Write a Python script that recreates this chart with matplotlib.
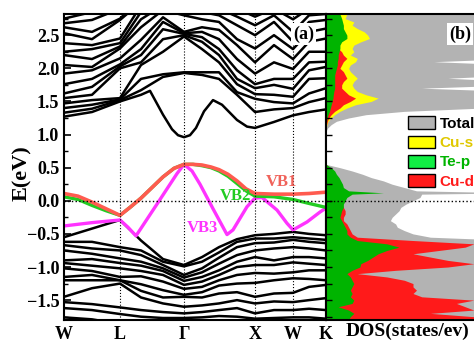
import matplotlib
matplotlib.use("Agg")
import matplotlib.pyplot as plt
from matplotlib.patches import Patch
from matplotlib.ticker import MultipleLocator

plt.rcParams["font.family"] = ["Liberation Serif", "DejaVu Serif"]
plt.rcParams["font.weight"] = "bold"

# ---- band structure -------------------------------------------------------
kpt_labels = ["W", "L", "Γ", "X", "W", "K"]
kpt_pos = [0.00, 0.56, 1.20, 1.91, 2.29, 2.62]

# sampling grid along the path W-L-Γ-X-W-K
k_grid = [0.00, 0.28, 0.56, 0.77, 0.99, 1.20, 1.38, 1.55, 1.73, 1.91, 2.10, 2.29, 2.45, 2.62]

# lowest conduction band, sampled finer around the Γ valley
cb01_k = [0.00, 0.28, 0.56, 0.77, 0.86, 0.99, 1.08, 1.14, 1.20, 1.26, 1.32, 1.40, 1.49,
          1.58, 1.73, 1.83, 1.91, 2.10, 2.29, 2.45, 2.62]
cb01 = [1.27, 1.34, 1.50, 1.60, 1.66, 1.30, 1.08, 0.99, 0.96, 0.99, 1.10, 1.35, 1.52,
        1.45, 1.22, 1.12, 1.10, 1.19, 1.29, 1.34, 1.38]
# other conduction bands (eV)
cb02 = [1.33, 1.39, 1.52, 1.67, 1.87, 1.93, 1.90, 1.84, 1.60, 1.34, 1.38, 1.40, 1.49, 1.55]
cb03 = [1.40, 1.45, 1.53, 1.84, 1.91, 1.94, 1.94, 1.94, 1.64, 1.54, 1.49, 1.47, 1.62, 1.70]
cb04 = [1.47, 1.52, 1.55, 2.05, 2.25, 2.48, 2.29, 2.09, 1.76, 1.61, 1.60, 1.57, 1.84, 1.85]
cb05 = [1.55, 1.60, 2.00, 2.09, 2.44, 2.50, 2.40, 2.20, 1.84, 1.70, 1.75, 1.69, 1.97, 2.02]
cb06 = [1.62, 1.72, 2.03, 2.20, 2.59, 2.52, 2.47, 2.29, 1.97, 1.76, 1.84, 1.84, 2.09, 2.10]
cb07 = [1.76, 1.84, 2.06, 2.29, 2.70, 2.53, 2.55, 2.44, 2.14, 1.92, 2.09, 1.99, 2.25, 2.25]
cb08 = [1.92, 1.97, 2.15, 2.43, 2.77, 2.55, 2.62, 2.58, 2.35, 2.09, 2.35, 2.14, 2.40, 2.45]
cb09 = [2.05, 2.02, 2.30, 2.62, 2.88, 2.80, 2.74, 2.70, 2.44, 2.30, 2.50, 2.29, 2.55, 2.60]
cb10 = [2.20, 2.14, 2.33, 2.74, 2.95, 2.90, 2.85, 2.80, 2.65, 2.50, 2.70, 2.40, 2.70, 2.73]
cb11 = [2.25, 2.29, 2.38, 2.85, 3.00, 3.00, 2.95, 2.90, 2.78, 2.65, 2.80, 2.55, 2.80, 2.82]
cb12 = [2.38, 2.35, 2.45, 2.95, 3.05, 3.05, 3.00, 3.00, 2.90, 2.78, 2.90, 2.74, 2.90, 2.90]
cb13 = [2.53, 2.44, 2.73, 3.00, 3.10, 3.10, 3.10, 3.10, 3.00, 2.90, 3.00, 2.85, 3.00, 3.00]
cb14 = [2.62, 2.55, 2.75, 3.05, 3.15, 3.15, 3.15, 3.15, 3.10, 3.00, 3.10, 3.00, 3.10, 3.10]
cb15 = [2.68, 2.73, 2.90, 3.10, 3.20, 3.20, 3.20, 3.20, 3.20, 3.10, 3.20, 3.10, 3.20, 3.20]
cb16 = [2.75, 2.85, 3.00, 3.20, 3.30, 3.30, 3.30, 3.30, 3.30, 3.20, 3.30, 3.20, 3.30, 3.30]

# deeper valence bands (eV)
vb04 = [-0.55, -0.42, -0.29, -0.60, -0.88, -0.97, -0.85, -0.70, -0.58, -0.52, -0.50, -0.47, -0.50, -0.52]
vb05 = [-0.62, -0.62, -0.70, -0.75, -0.92, -0.99, -0.92, -0.78, -0.62, -0.57, -0.57, -0.55, -0.57, -0.59]
vb06 = [-0.67, -0.72, -0.75, -0.82, -0.97, -1.12, -1.02, -0.86, -0.70, -0.64, -0.63, -0.59, -0.62, -0.64]
vb07 = [-0.75, -0.80, -0.87, -0.92, -1.02, -1.16, -1.08, -0.95, -0.82, -0.75, -0.72, -0.70, -0.72, -0.75]
vb08 = [-0.90, -0.88, -0.94, -0.98, -1.06, -1.21, -1.15, -1.05, -0.92, -0.85, -0.90, -0.85, -0.85, -0.87]
vb09 = [-0.94, -0.98, -1.02, -1.06, -1.12, -1.27, -1.22, -1.12, -1.00, -0.97, -0.97, -0.93, -0.95, -0.97]
vb10 = [-1.02, -1.06, -1.15, -1.14, -1.22, -1.33, -1.30, -1.20, -1.12, -1.09, -1.10, -1.08, -1.05, -1.05]
vb11 = [-1.15, -1.12, -1.20, -1.26, -1.35, -1.42, -1.38, -1.28, -1.25, -1.24, -1.20, -1.17, -1.18, -1.20]
vb12 = [-1.20, -1.20, -1.20, -1.36, -1.46, -1.45, -1.46, -1.40, -1.38, -1.45, -1.40, -1.39, -1.30, -1.27]
vb13 = [-1.45, -1.32, -1.25, -1.46, -1.55, -1.60, -1.58, -1.55, -1.50, -1.55, -1.52, -1.53, -1.50, -1.47]
vb14 = [-1.53, -1.56, -1.61, -1.65, -1.68, -1.70, -1.68, -1.65, -1.62, -1.70, -1.65, -1.65, -1.63, -1.65]
vb15 = [-1.62, -1.65, -1.71, -1.75, -1.77, -1.77, -1.76, -1.74, -1.75, -1.78, -1.77, -1.76, -1.76, -1.78]
vb16 = [-1.76, -1.79, -1.86, -1.88, -1.90, -1.90, -1.88, -1.85, -1.86, -1.90, -1.88, -1.86, -1.86, -1.88]

# highlighted top valence bands
vb12_k = [0.00, 0.14, 0.28, 0.42, 0.56, 0.66, 0.77, 0.88, 0.99, 1.10, 1.20, 1.29, 1.38,
          1.47, 1.55, 1.64, 1.73, 1.82, 1.91, 2.10, 2.29, 2.45, 2.62]
vb1 = [0.11, 0.07, -0.02, -0.12, -0.22, -0.10, 0.04, 0.20, 0.36, 0.49, 0.55, 0.55, 0.54,
       0.51, 0.47, 0.40, 0.30, 0.18, 0.11, 0.10, 0.10, 0.11, 0.13]
vb2 = [0.06, 0.02, -0.07, -0.15, -0.22, -0.10, 0.04, 0.20, 0.36, 0.49, 0.55, 0.55, 0.53,
       0.50, 0.45, 0.37, 0.26, 0.15, 0.07, 0.06, 0.02, -0.04, -0.10]
vb3_k = [0.00, 0.28, 0.56, 0.64, 0.72, 0.93, 1.13, 1.20, 1.28, 1.36, 1.49, 1.63, 1.69,
         1.83, 1.91, 1.98, 2.13, 2.23, 2.29, 2.43, 2.56, 2.62]
vb3 = [-0.38, -0.33, -0.29, -0.40, -0.53, -0.05, 0.41, 0.55, 0.45, 0.25, -0.12, -0.51, -0.44,
       -0.09, 0.04, 0.05, -0.14, -0.34, -0.44, -0.32, -0.17, -0.11]

# ---- density of states ----------------------------------------------------
dos_energy = [2.82, 2.75, 2.70, 2.65, 2.60, 2.55, 2.50, 2.45, 2.40, 2.35, 2.30, 2.25,
              2.20, 2.15, 2.10, 2.05, 2.00, 1.95, 1.90, 1.85, 1.80, 1.75, 1.70, 1.65,
              1.60, 1.55, 1.50, 1.45, 1.40, 1.35, 1.30, 1.25, 1.20, 1.15, 1.10, 1.05,
              1.00, 0.60,
              0.55, 0.50, 0.45, 0.40, 0.35, 0.30, 0.25, 0.20, 0.15, 0.12, 0.10, 0.05,
              0.00, -0.05, -0.10, -0.15, -0.20, -0.25, -0.30, -0.35, -0.40, -0.45, -0.50,
              -0.55, -0.60, -0.65, -0.70, -0.75, -0.80, -0.85, -0.90, -0.95, -1.00, -1.05,
              -1.10, -1.15, -1.20, -1.25, -1.30, -1.35, -1.40, -1.45, -1.50, -1.55, -1.60,
              -1.65, -1.70, -1.75, -1.80]
dos_total = [11, 11, 11, 11, 11, 11, 11, 11, 11, 11, 11, 11,
             11, 11, 6.2, 11, 11, 11, 11, 7.0, 11, 11, 5.5, 11,
             11, 11, 11, 11, 9.0, 4.5, 2.3, 1.3, 0.6, 0.3, 0.1, 0,
             0, 0,
             0, 0.8, 1.5, 2.1, 2.6, 3.3, 3.8, 4.5, 5.2, 11, 5.5, 5.4,
             5.0, 4.6, 4.3, 4.2, 4.0, 3.8, 3.7, 4.0, 4.1, 4.5, 5.0,
             6.0, 11, 11, 11, 11, 11, 11, 11, 11, 11, 11,
             11, 11, 11, 11, 11, 11, 11, 11, 11, 11, 11,
             11, 11, 11, 11]
dos_cu_s = [1.2, 1.1, 1.6, 1.5, 1.8, 2.2, 2.4, 2.5, 2.0, 1.6, 1.5, 1.6,
            1.4, 1.8, 1.7, 1.4, 1.3, 1.4, 1.6, 1.8, 1.6, 1.5, 1.6, 1.8,
            2.3, 3.0, 2.6, 1.7, 1.2, 0.8, 0.5, 0.3, 0.12, 0.05, 0.02, 0,
            0, 0,
            0, 0.2, 0.2, 0.2, 0.2, 0.2, 0.2, 0.2, 0.2, 0.2, 0.2, 0.2,
            0.2, 0.2, 0.2, 0.2, 0.2, 0.2, 0.2, 0.2, 0.2, 0.2, 0.2,
            0.2, 0.2, 0.2, 0.2, 0.2, 0.2, 0.2, 0.2, 0.2, 0.2, 0.2,
            0.2, 0.2, 0.2, 0.2, 0.2, 0.2, 0.2, 0.2, 0.2, 0.2, 0.2,
            0.2, 0.2, 0.2, 0.2]
dos_te_p = [0.8, 0.9, 0.95, 1.0, 1.0, 1.1, 1.2, 1.2, 0.9, 0.8, 0.8, 0.75,
            0.7, 0.7, 0.65, 0.65, 0.6, 0.55, 0.5, 0.5, 0.5, 0.5, 0.5, 0.45,
            0.42, 0.4, 0.35, 0.3, 0.25, 0.2, 0.12, 0.06, 0.03, 0.01, 0, 0,
            0, 0,
            0, 0.3, 0.5, 0.6, 0.75, 0.85, 0.95, 1.0, 1.3, 3.3, 1.5, 1.2,
            1.1, 1.0, 1.0, 0.9, 0.85, 0.8, 0.9, 1.0, 1.1, 1.2, 1.2,
            1.4, 1.8, 3.5, 4.2, 3.5, 3.0, 2.7, 2.4, 2.0, 1.95, 1.5,
            1.2, 1.4, 1.5, 1.6, 1.5, 1.4, 1.5, 1.4, 1.6, 1.5, 0.7,
            1.3, 1.6, 1.4, 1.3]
dos_cu_d = [0.3, 0.3, 0.3, 0.3, 0.35, 0.4, 0.4, 0.4, 0.5, 0.6, 0.7, 0.9,
            1.0, 1.2, 1.0, 0.9, 0.8, 1.0, 1.1, 1.2, 1.0, 0.9, 0.9, 1.1,
            1.3, 1.7, 1.4, 1.0, 0.8, 0.5, 0.3, 0.15, 0.08, 0.03, 0, 0,
            0, 0,
            0, 0.2, 0.3, 0.4, 0.4, 0.5, 0.5, 0.6, 0.7, 1.5, 0.8, 0.8,
            0.9, 0.9, 1.0, 1.1, 1.1, 1.0, 1.0, 1.2, 1.3, 1.4, 1.5,
            1.8, 5.0, 8.5, 8.0, 6.5, 5.0, 6.0, 7.0, 8.5, 7.0, 4.0,
            1.8, 3.5, 4.5, 5.0, 5.0, 5.2, 5.0, 5.5, 8.5, 7.5, 8.0,
            8.5, 6.0, 8.5, 8.5]

cond_bands = [cb02, cb03, cb04, cb05, cb06, cb07, cb08,
              cb09, cb10, cb11, cb12, cb13, cb14, cb15, cb16]
val_bands = [vb04, vb05, vb06, vb07, vb08, vb09, vb10, vb11, vb12, vb13, vb14, vb15, vb16]

W_PX, H_PX = 474, 342
fig = plt.figure(figsize=(W_PX / 100, H_PX / 100), dpi=100)
ax = fig.add_axes([64 / W_PX, 22 / H_PX, 262 / W_PX, 306 / H_PX])
ax2 = fig.add_axes([326 / W_PX, 22 / H_PX, 174 / W_PX, 306 / H_PX])

# left panel: bands
for band in val_bands + cond_bands:
    ax.plot(k_grid, band, color="black", lw=1.8, solid_joinstyle="round")
ax.plot(cb01_k, cb01, color="black", lw=1.8, solid_joinstyle="round")
ax.plot(vb3_k, vb3, color="#ff33ff", lw=2.4)
ax.plot(vb12_k, vb2, color="#22cc22", lw=2.4)
ax.plot(vb12_k, vb1, color="#ff5b4f", lw=2.6)

for x in kpt_pos[1:-1]:
    ax.axvline(x, color="black", ls=":", lw=0.8)
ax.axhline(0, color="black", ls=":", lw=1.0)

ax.set_xlim(kpt_pos[0], kpt_pos[-1])
ax.set_ylim(-1.8, 2.82)
ax.set_xticks(kpt_pos)
ax.set_xticklabels(kpt_labels, fontsize=13, fontweight="bold")
ax.tick_params(axis="x", length=0, pad=4)
ax.yaxis.set_major_locator(MultipleLocator(0.5))
ax.yaxis.set_minor_locator(MultipleLocator(0.25))
ax.tick_params(axis="y", which="major", direction="in", length=5, width=1.2, labelsize=13)
ax.tick_params(axis="y", which="minor", direction="in", length=3, width=1.0)
for lab in ax.get_yticklabels():
    lab.set_fontweight("bold")

ax.text(2.18, 0.28, "VB1", color="#f0625a", fontsize=12, fontweight="bold", ha="center", va="center")
ax.text(1.72, 0.07, "VB2", color="#22cc22", fontsize=12, fontweight="bold", ha="center", va="center")
ax.text(1.39, -0.41, "VB3", color="#ff33ff", fontsize=12, fontweight="bold", ha="center", va="center")
ax.text(0.955, 0.935, "(a)", transform=ax.transAxes, fontsize=13, fontweight="bold",
        ha="right", va="center", bbox=dict(facecolor="white", edgecolor="none", pad=1.5))

# right panel: DOS
ax2.fill_betweenx(dos_energy, 0, dos_total, color="#b3b3b3", lw=0)
ax2.fill_betweenx(dos_energy, 0, dos_cu_s, color="#ffff00", lw=0)
ax2.fill_betweenx(dos_energy, 0, dos_cu_d, color="#ff1a1a", lw=0)
ax2.fill_betweenx(dos_energy, 0, dos_te_p, color="#00b400", lw=0)
ax2.axhline(0, color="black", ls=":", lw=1.0)
ax2.set_xlim(0, 10)
ax2.set_ylim(-1.8, 2.82)
ax2.set_xticks([])
ax2.yaxis.set_major_locator(MultipleLocator(0.5))
ax2.yaxis.set_minor_locator(MultipleLocator(0.25))
ax2.tick_params(axis="y", which="both", direction="in", length=4, width=1.0, labelleft=False)
ax2.text(0.77, 0.935, "(b)", transform=ax2.transAxes, fontsize=13, fontweight="bold",
         ha="center", va="center", bbox=dict(facecolor="white", edgecolor="none", pad=1.5))

handles = [Patch(facecolor="#b3b3b3", edgecolor="black", lw=1.0),
           Patch(facecolor="#ffff00", edgecolor="black", lw=1.0),
           Patch(facecolor="#11ee44", edgecolor="black", lw=1.0),
           Patch(facecolor="#ff1a1a", edgecolor="black", lw=1.0)]
leg = ax2.legend(handles, ["Total", "Cu-s", "Te-p", "Cu-d"], loc="upper left",
                 bbox_to_anchor=(0.425, 0.69), frameon=False, handlelength=1.8,
                 handleheight=0.9, handletextpad=0.3, labelspacing=0.3, borderpad=0,
                 prop={"family": ["Liberation Sans", "DejaVu Sans"], "weight": "bold", "size": 11})
for txt, col in zip(leg.get_texts(), ["black", "#e0c800", "#00b400", "#ff1a1a"]):
    txt.set_color(col)

for a in (ax, ax2):
    for sp in a.spines.values():
        sp.set_linewidth(1.5)

fig.text(22 / W_PX, 1 - 173 / H_PX, "E(eV)", rotation=90, fontsize=16, fontweight="bold",
         ha="center", va="center")
fig.text(408 / W_PX, 1 - 331 / H_PX, "DOS(states/ev)", fontsize=14, fontweight="bold",
         ha="center", va="center")

fig.savefig("out.png", dpi=100)
